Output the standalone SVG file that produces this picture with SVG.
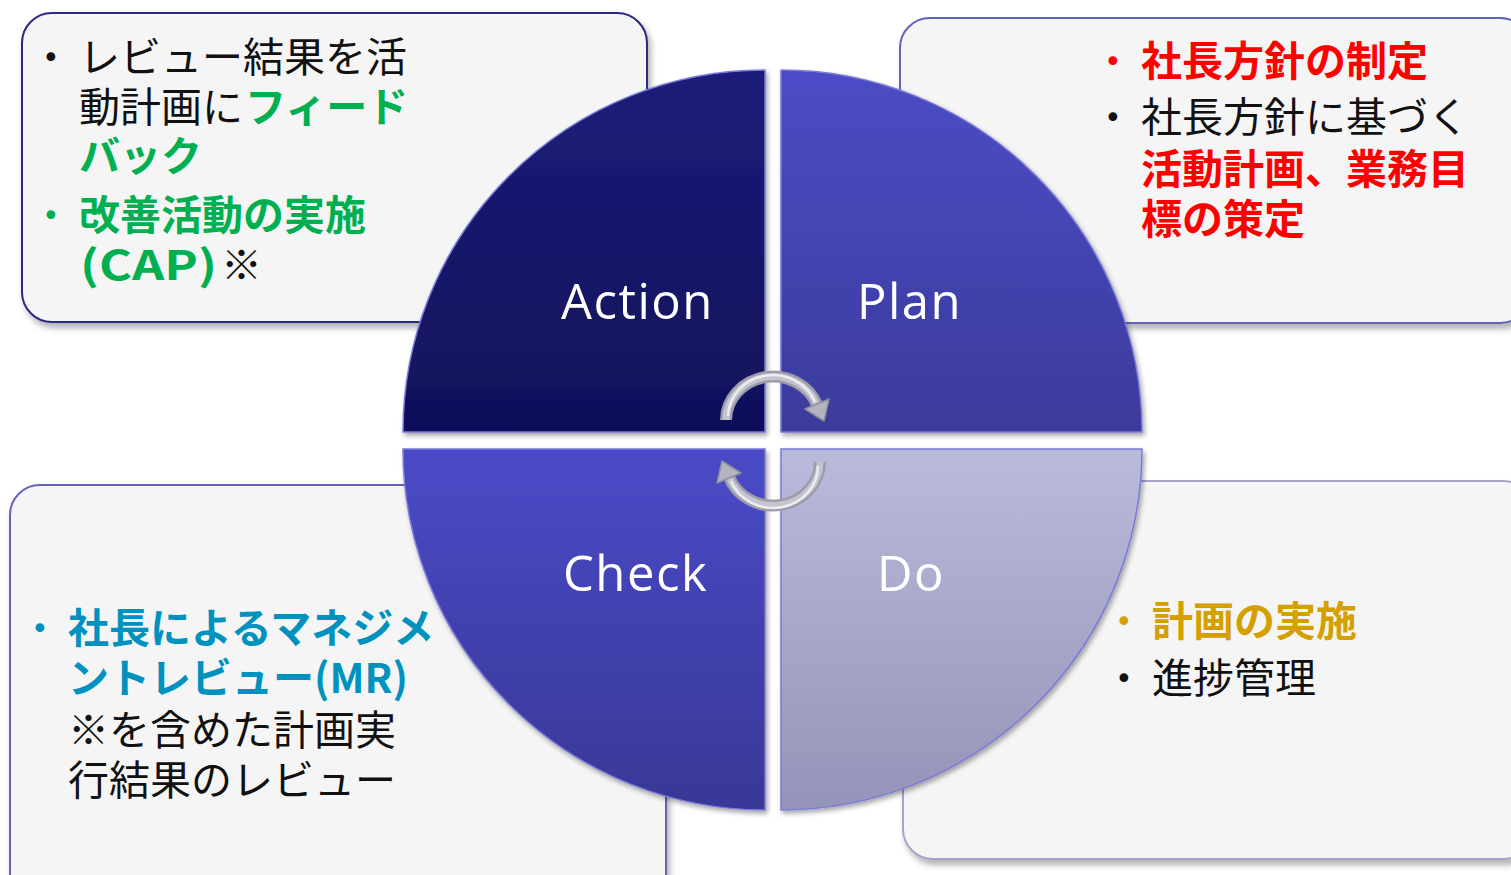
<svg xmlns="http://www.w3.org/2000/svg" width="1511" height="875" viewBox="0 0 1511 875">
<defs>
<filter id="sh" x="-10%" y="-10%" width="125%" height="130%"><feDropShadow dx="3" dy="5" stdDeviation="3" flood-color="#000" flood-opacity="0.3"/></filter>
<filter id="qsh" x="-10%" y="-10%" width="125%" height="125%"><feDropShadow dx="2" dy="3" stdDeviation="2.5" flood-color="#000" flood-opacity="0.35"/></filter>
<linearGradient id="gA" x1="0" y1="0" x2="0" y2="1"><stop offset="0" stop-color="#1d1d7a"/><stop offset="1" stop-color="#10105a"/></linearGradient>
<linearGradient id="gP" x1="0" y1="0" x2="0" y2="1"><stop offset="0" stop-color="#4c4cc6"/><stop offset="1" stop-color="#3b3b9c"/></linearGradient>
<linearGradient id="gC" x1="0" y1="0" x2="0" y2="1"><stop offset="0" stop-color="#4a4ac8"/><stop offset="1" stop-color="#383896"/></linearGradient>
<linearGradient id="gD" x1="0" y1="0" x2="0" y2="1"><stop offset="0" stop-color="#babadc"/><stop offset="1" stop-color="#9494b8"/></linearGradient>
</defs>
<style>
.box{fill:#f5f5f5;stroke-width:2;filter:url(#sh)}
.t{font-family:"Noto Sans CJK JP","Noto Sans",sans-serif;font-size:41px;fill:#111}
.bu{font-family:"DejaVu Sans",sans-serif;font-size:30px;fill:#111}
.b{font-weight:bold}
.g{fill:#00b050}
.r{fill:#ff0000}
.c{fill:#0092be}
.y{fill:#d4a000}
.lbl{font-family:"Open Sans","Noto Sans",sans-serif;font-size:49px;letter-spacing:1.5px;fill:#fff}
.q{filter:url(#qsh);stroke:#7a7ad8;stroke-width:1.5}
.arc{fill:none;stroke:#9c9caa;stroke-width:12}
.arcIn{fill:none;stroke:#c4c4cf;stroke-width:7}
.arcHi{fill:none;stroke:#ececf2;stroke-width:2.5}
.head{fill:#b4b4c0;stroke:#8e8e9c;stroke-width:1.5;stroke-linejoin:round}
</style>
<rect width="1511" height="875" fill="#fff"/>
<g id="box-action"><rect class="box" x="22" y="13" width="625" height="309" rx="30" stroke="#2a2a80"/>
<text class="bu" x="42" y="68">•</text>
<text class="t" x="79" y="72">レビュー結果を活</text>
<text class="t" x="79" y="122">動計画に</text>
<text class="t g b" x="245" y="122">フィード</text>
<text class="t g b" x="79" y="171">バック</text>
<text class="bu g" x="42" y="226">•</text>
<text class="t g b" x="79" y="230">改善活動の実施</text>
<text class="t g b" x="80" y="280" font-size="44" textLength="137" lengthAdjust="spacingAndGlyphs">(CAP)</text>
<text class="t" x="221" y="280">※</text></g>
<g id="box-plan"><rect class="box" x="900" y="18" width="630" height="305" rx="30" stroke="#6464b8"/>
<text class="bu r" x="1104" y="72">•</text>
<text class="t r b" x="1141" y="76">社長方針の制定</text>
<text class="bu" x="1104" y="128">•</text>
<text class="t" x="1141" y="132">社長方針に基づく</text>
<text class="t r b" x="1141" y="184">活動計画、業務目</text>
<text class="t r b" x="1141" y="234">標の策定</text></g>
<g id="box-check"><rect class="box" x="10" y="485" width="656" height="420" rx="30" stroke="#6464b8"/>
<text class="bu c" x="31" y="639">•</text>
<text class="t c b" x="68" y="643">社長によるマネジメ</text>
<text class="t c b" x="68" y="693">ントレビュー(MR)</text>
<text class="t" x="68" y="745">※を含めた計画実</text>
<text class="t" x="68" y="795">行結果のレビュー</text></g>
<g id="box-do"><rect class="box" x="903" y="481" width="630" height="378" rx="30" stroke="#a4a4c8"/>
<text class="bu y" x="1115" y="632">•</text>
<text class="t y b" x="1152" y="636">計画の実施</text>
<text class="bu" x="1115" y="689">•</text>
<text class="t" x="1152" y="693">進捗管理</text></g>
<g id="q-action"><path class="q" d="M765,432 L403,432 A362,362 0 0 1 765,70 Z" fill="url(#gA)" stroke="#3a3aa0"/><text class="lbl" x="561" y="319">Action</text></g>
<g id="q-plan"><path class="q" d="M781,432 L781,70 A361,362 0 0 1 1142,432 Z" fill="url(#gP)"/><text class="lbl" x="857" y="319">Plan</text></g>
<g id="q-check"><path class="q" d="M765,449 L765,810 A362,361 0 0 1 403,449 Z" fill="url(#gC)"/><text class="lbl" x="563" y="591">Check</text></g>
<g id="q-do"><path class="q" d="M781,449 L1142,449 A361,361 0 0 1 781,810 Z" fill="url(#gD)" stroke="#c8c8e8"/><text class="lbl" x="877" y="591">Do</text></g>
<g id="connectors">
<path class="arc" d="M726,420 A47,44 0 0 1 817,405"/>
<path class="arcIn" d="M726,420 A47,44 0 0 1 817,405"/>
<path class="arcHi" d="M728,416 A45,42 0 0 1 815,402"/>
<polygon class="head" points="829,399 824,421 805,409"/>
<path class="arc" d="M820,462 A47,44 0 0 1 729,477"/>
<path class="arcIn" d="M820,462 A47,44 0 0 1 729,477"/>
<path class="arcHi" d="M818,466 A45,42 0 0 1 731,481"/>
<polygon class="head" points="717,483 722,461 741,473"/>
</g>
</svg>
